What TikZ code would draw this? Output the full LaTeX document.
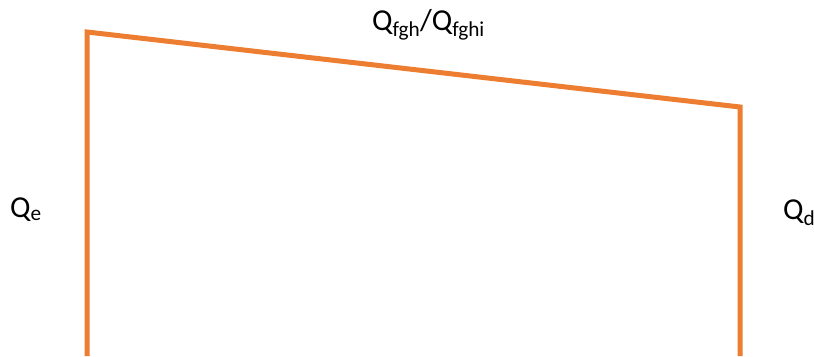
\documentclass[tikz,border=0pt]{standalone}
\usepackage{fontspec}
\setmainfont{Carlito}
\definecolor{wallorange}{RGB}{237,125,49}
\begin{document}
\begin{tikzpicture}[x=1bp,y=1bp,
  wall/.style={draw=wallorange,line width=5bp,line join=miter},
  lbl/.style={anchor=base west,inner sep=0pt,font=\fontsize{30.5}{36}\selectfont}]
\useasboundingbox (0,0) rectangle (814,356);
\coordinate (bl) at (87,0);
\coordinate (tl) at (87,324);
\coordinate (tr) at (740,249);
\coordinate (br) at (740,0);
\draw[wall] (bl) -- (tl) -- (tr) -- (br);
\node[lbl] (qtop) at (372,326) {Q\textsubscript{fgh}/Q\textsubscript{fghi}};
\node[lbl] (qe) at (10,139) {Q\textsubscript{e}};
\node[lbl] (qd) at (783,137) {Q\textsubscript{d}};
\end{tikzpicture}
\end{document}
